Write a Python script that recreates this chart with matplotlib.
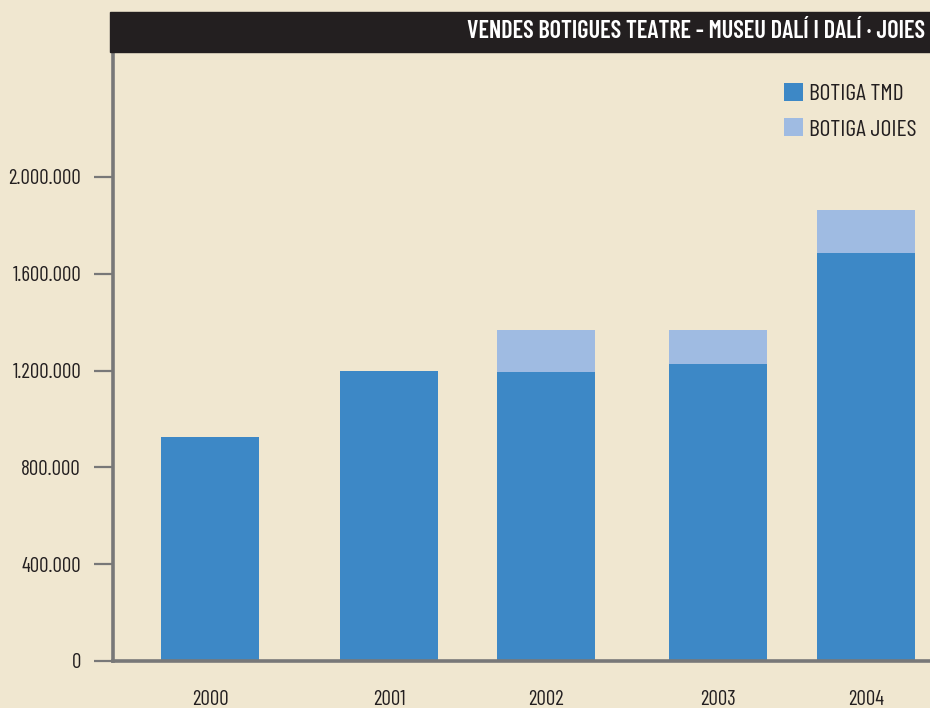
import numpy as np
import matplotlib
matplotlib.use("Agg")
import matplotlib.pyplot as plt
from matplotlib.patches import Rectangle

years = ["2000", "2001", "2002", "2003", "2004"]
tmd = [925000, 1197000, 1195000, 1228000, 1685000]
joies = [0, 0, 172000, 139000, 177000]
yticks = [0, 400000, 800000, 1200000, 1600000, 2000000]
ylabels = ["0", "400.000", "800.000", "1.200.000", "1.600.000", "2.000.000"]

BG = "#F0E7D0"
C_TMD = "#3D88C6"
C_JOI = "#9FBBE2"
INK = "#231F20"
AX = "#787878"
plt.rcParams["font.family"] = ["Barlow Condensed", "DejaVu Sans"]

# uneven bar positions as in the original layout (bar width = 1 unit)
xpos = np.array([0.99, 2.82, 4.42, 6.17, 7.68])

fig = plt.figure(figsize=(9.3, 7.08), dpi=100, facecolor=BG)
ax = fig.add_axes([113 / 930, 47 / 708, 817 / 930, 609 / 708])
ax.set_facecolor(BG)

ax.bar(xpos, tmd, width=1.0, color=C_TMD, label="BOTIGA TMD", zorder=2)
ax.bar(xpos, joies, width=1.0, bottom=tmd, color=C_JOI, label="BOTIGA JOIES", zorder=2)

ax.set_xlim(0, 817 / 98)
ax.set_ylim(0, 609 / 242 * 1e6)
ax.set_yticks(yticks)
ax.set_yticklabels(ylabels, fontsize=15, color=INK)
ax.set_xticks(xpos)
ax.set_xticklabels(years, fontsize=15, color=INK)
ax.tick_params(axis="y", length=14, width=1.6, color=AX, pad=9)
ax.tick_params(axis="x", length=0, pad=21)
for s in ("top", "right"):
    ax.spines[s].set_visible(False)
for s in ("left", "bottom"):
    ax.spines[s].set_color(AX)
    ax.spines[s].set_linewidth(2.6)

leg = ax.legend(loc="upper right", bbox_to_anchor=(1.006, 0.98), frameon=False,
                fontsize=17, handlelength=0.8, handleheight=0.8, handletextpad=0.25,
                labelspacing=0.55, borderaxespad=0.4)
for t in leg.get_texts():
    t.set_color(INK)

# title bar
fig.patches.append(Rectangle((110 / 930, 1 - 52 / 708), 820 / 930, 40 / 708,
                             transform=fig.transFigure, color=INK, zorder=5))
fig.text(925 / 930, 1 - 32 / 708, "VENDES BOTIGUES TEATRE - MUSEU DALÍ I DALÍ · JOIES",
         ha="right", va="center", color="white", fontsize=17.5, fontweight="semibold", zorder=6)

fig.savefig("out.png", dpi=100, facecolor=BG)
